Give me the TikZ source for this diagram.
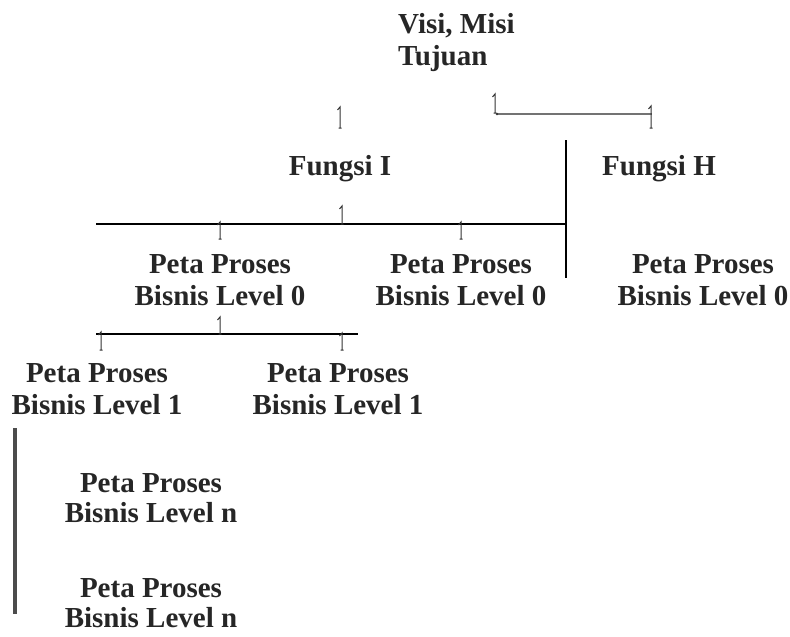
\documentclass[tikz,border=0pt]{standalone}
\usepackage{fontspec}
\setmainfont{Liberation Serif}
\usepackage{tikz}

\begin{document}
\begin{tikzpicture}[x=1pt,y=-1pt,
    judul/.style={font=\bfseries\fontsize{29}{32}\selectfont, text=black!85, align=center, inner sep=0pt},
    garis/.style={line width=2.4pt, black},
    tanda/.style={line width=1pt, black!80}]
    \useasboundingbox (0,0) rectangle (790,637);

    \node [judul, align=left, anchor=north west] (visi) at (398,13.5) {Visi, Misi\\Tujuan};
    \node [judul, anchor=base] (fungsiI) at (340,175) {Fungsi I};
    \node [judul, anchor=base] (fungsiH) at (659,175) {Fungsi H};
    \node [judul, anchor=north] (pp0a) at (220,254.5) {Peta Proses\\Bisnis Level 0};
    \node [judul, anchor=north] (pp0b) at (461,254.5) {Peta Proses\\Bisnis Level 0};
    \node [judul, anchor=north] (pp0c) at (703,254.5) {Peta Proses\\Bisnis Level 0};
    \node [judul, anchor=north] (pp1a) at (97,363.5) {Peta Proses\\Bisnis Level 1};
    \node [judul, anchor=north] (pp1b) at (338,363.5) {Peta Proses\\Bisnis Level 1};
    \node [judul, font=\bfseries\fontsize{29}{30}\selectfont, anchor=north] (ppna) at (151,473.5) {Peta Proses\\Bisnis Level n};
    \node [judul, font=\bfseries\fontsize{29}{30}\selectfont, anchor=north] (ppnb) at (151,578.5) {Peta Proses\\Bisnis Level n};

    % garis penghubung
    \coordinate (a0) at (497,114);
    \coordinate (a1) at (652,114);
    \coordinate (b0) at (96,224);
    \coordinate (b1) at (566,224);
    \coordinate (v0) at (566,140);
    \coordinate (v1) at (566,278);
    \coordinate (c0) at (96,334);
    \coordinate (c1) at (358,334);
    \coordinate (n0) at (15,428);
    \coordinate (n1) at (15,614);
    \draw [line width=1.2pt, black!55] (a0) -- (a1);
    \fill [black!80] (a0) circle (1.3pt);
    \draw [garis] (b0) -- (b1);
    \draw [garis] (v0) -- (v1);
    \draw [garis, line width=2pt] (c0) -- (c1);
    \draw [line width=4pt, black!70] (n0) -- (n1);

    % tanda kecil
    \foreach \x/\a/\b in {340/107/128, 495/94/113, 651/106/128, 342/206/224, 461/222/239,
                          220/222/239, 220/317/334, 101/332/350, 342/333/350}
      \draw [tanda] (\x-2.5,\a+3) -- (\x,\a) -- (\x,\b) (\x-1.5,\b) -- (\x+1.5,\b);
\end{tikzpicture}
\end{document}
